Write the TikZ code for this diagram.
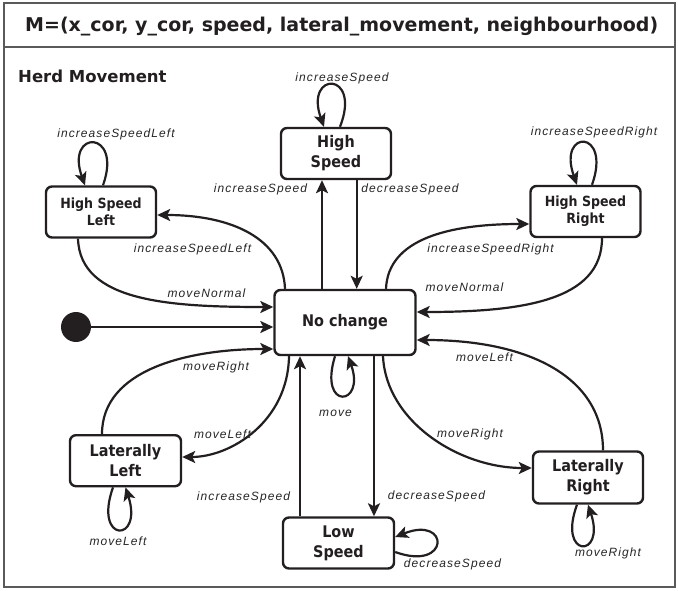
\documentclass[tikz,border=0pt]{standalone}
\usepackage{fontspec}
\setmainfont{DejaVu Sans}
\newfontfamily\statefont{DejaVu Sans}[FakeStretch=0.9]
\newfontfamily\labelfont{Liberation Sans}[LetterSpace=9]
\usetikzlibrary{arrows.meta}

\definecolor{ink}{HTML}{231F20}
\definecolor{framegray}{HTML}{5A5A5A}
\definecolor{labelgray}{HTML}{262626}

\tikzset{
  state/.style={draw=ink, line width=2.4pt, rounded corners=6pt, fill=white,
    align=center, inner sep=0pt, text=ink,
    font=\statefont\bfseries\fontsize{14}{17.3}\selectfont},
  bigstate/.style={state, font=\statefont\bfseries\fontsize{16}{20}\selectfont},
  trans/.style={draw=ink, line width=2.2pt,
    -{Stealth[length=13pt,width=12pt,inset=3pt]}},
  lbl/.style={font=\labelfont\itshape\fontsize{12}{14}\selectfont,
    text=labelgray, inner sep=0pt},
  heading/.style={anchor=base west, text=ink, inner sep=0pt},
}

\begin{document}
\begin{tikzpicture}[x=1pt,y=-1pt]
\useasboundingbox (0,0) rectangle (678,591);
\fill[white] (0,0) rectangle (678,591);

% frame and header band
\draw[framegray, line width=1.3pt] (4,3) rectangle (675,587);
\draw[framegray, line width=1.3pt] (4,47) -- (675,47);
\node[heading, font=\bfseries\fontsize{19}{23}\selectfont] (title) at (25,32)
  {M=(x\_cor, y\_cor, speed, lateral\_movement, neighbourhood)};
\node[heading, font=\bfseries\fontsize{16.5}{20}\selectfont] (herd) at (18,83)
  {Herd Movement};

% states
\node[bigstate, minimum width=110pt, minimum height=51pt] (hs)  at (336,153.5) {High\\Speed};
\node[state,    minimum width=110pt, minimum height=51pt] (hsl) at (101,212)   {High Speed\\Left};
\node[state,    minimum width=110pt, minimum height=51pt] (hsr) at (585.5,211.5) {High Speed\\Right};
\node[bigstate, minimum width=141pt, minimum height=65pt] (nc)  at (345,322.5) {No change};
\node[bigstate, minimum width=111pt, minimum height=51pt] (ll)  at (125.5,460.7) {Laterally\\Left};
\node[bigstate, minimum width=110pt, minimum height=52pt] (lr)  at (588,477.5) {Laterally\\Right};
\node[bigstate, minimum width=111pt, minimum height=51pt] (ls)  at (338.5,543) {Low\\Speed};

% initial pseudo-state
\node[circle, fill=ink, minimum size=30pt, inner sep=0pt] (init) at (76,327) {};
\draw[trans] (init) -- (init -| nc.west);

% speed up / down
\draw[trans] ([xshift=-23pt]nc.north) -- ([xshift=-14pt]hs.south);
\draw[trans] ([xshift=20.7pt]hs.south) -- ([xshift=11.7pt]nc.north);
\draw[trans] ([xshift=-38.5pt]ls.north) -- ([xshift=-45pt]nc.south);
\draw[trans] ([xshift=29pt]nc.south) -- ([xshift=35.5pt]ls.north);

% diagonal high-speed states
\draw[trans] ([xshift=-60pt]nc.north) .. controls +(-2,-50) and +(75,0) .. ([yshift=-3pt]hsl.east);
\draw[trans] ([xshift=-23pt]hsl.south) .. controls +(2,63) and +(-104,0) .. ([yshift=15.5pt]nc.west);
\draw[trans] ([xshift=41pt]nc.north) .. controls +(2,-50) and +(-80,0) .. ([yshift=-12.5pt]hsr.west);
\draw[trans] ([xshift=16.5pt]hsr.south) .. controls +(0,63) and +(104,0) .. ([yshift=10.5pt]nc.east);

% lateral states
\draw[trans] ([xshift=-23.5pt]ll.north) .. controls +(0,-65) and +(-84,0) .. ([yshift=-26.5pt]nc.west);
\draw[trans] ([xshift=-56pt]nc.south) .. controls +(-1,65) and +(49,0) .. ([yshift=3.7pt]ll.east);
\draw[trans] ([xshift=38pt]nc.south) .. controls +(3,65) and +(-73,0) .. ([yshift=9.5pt]lr.west);
\draw[trans] ([xshift=15pt]lr.north) .. controls +(0,-72) and +(114,0) .. ([yshift=-17.5pt]nc.east);

% self loops
\draw[trans] ([xshift=4pt]hs.north) .. controls +(22,-56) and +(-20,-56) .. ([xshift=-12pt]hs.north);
\draw[trans] ([xshift=2pt]hsl.north) .. controls +(20,-56) and +(-20,-56) .. ([xshift=-16pt]hsl.north);
\draw[trans] ([xshift=6.5pt]hsr.north) .. controls +(20,-56) and +(-20,-56) .. ([xshift=-8.5pt]hsr.north);
\draw[trans] ([xshift=-10pt]nc.south) .. controls +(-17,55) and +(18,50) .. ([xshift=3pt]nc.south);
\draw[trans] ([xshift=-12.5pt]ll.south) .. controls +(-20,56) and +(18,56) .. (ll.south);
\draw[trans] ([xshift=-11pt]lr.south) .. controls +(-20,54) and +(18,54) .. (lr.south);
\draw[trans] ([yshift=-9pt]ls.east) .. controls +(55,20) and +(55,-22) .. ([yshift=6pt]ls.east);

% transition labels
\node[lbl] (t1)  at (342,78)    {increaseSpeed};
\node[lbl] (t2)  at (116,134)   {increaseSpeedLeft};
\node[lbl] (t3)  at (594,132)   {increaseSpeedRight};
\node[lbl] (t4)  at (260.5,189) {increaseSpeed};
\node[lbl] (t5)  at (410,189)   {decreaseSpeed};
\node[lbl] (t6)  at (192.5,249) {increaseSpeedLeft};
\node[lbl] (t7)  at (206.5,293) {moveNormal};
\node[lbl] (t8)  at (490.5,249) {increaseSpeedRight};
\node[lbl] (t9)  at (464.5,287) {moveNormal};
\node[lbl] (t10) at (216,367)   {moveRight};
\node[lbl] (t11) at (222.5,434) {moveLeft};
\node[lbl] (t12) at (243.5,497) {increaseSpeed};
\node[lbl] (t13) at (118,541)   {moveLeft};
\node[lbl] (t14) at (335.5,413) {move};
\node[lbl] (t15) at (436.5,496) {decreaseSpeed};
\node[lbl] (t16) at (470,434)   {moveRight};
\node[lbl] (t17) at (484.5,357) {moveLeft};
\node[lbl] (t18) at (608,553)   {moveRight};
\node[lbl] (t19) at (452.5,564) {decreaseSpeed};
\end{tikzpicture}
\end{document}
